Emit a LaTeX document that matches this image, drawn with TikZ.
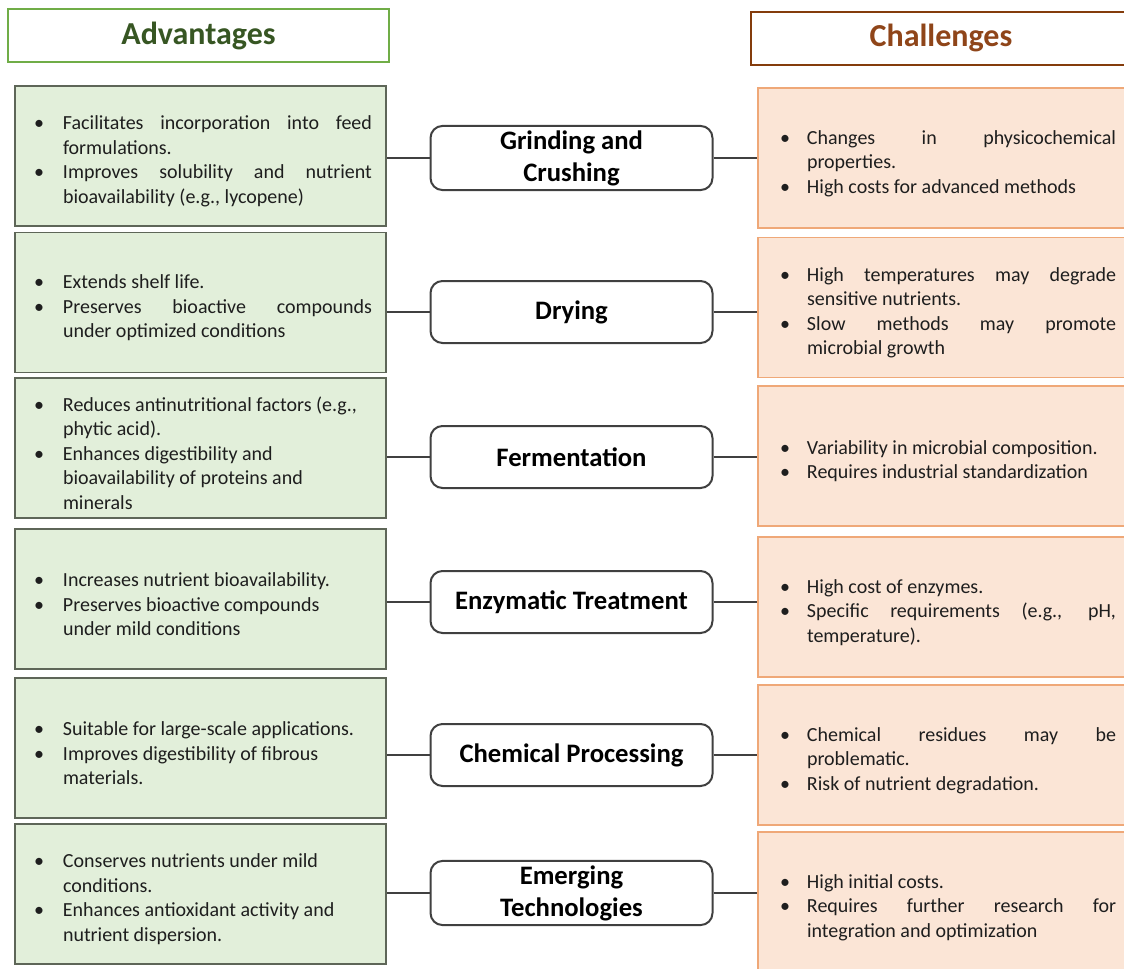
\documentclass[tikz,border=0pt]{standalone}
\usepackage{fontspec}
\setmainfont{Carlito}
\usetikzlibrary{positioning}

\definecolor{advline}{HTML}{70AD47}
\definecolor{advtext}{HTML}{375623}
\definecolor{advfill}{HTML}{E2EFDA}
\definecolor{advedge}{HTML}{5E6658}
\definecolor{chline}{HTML}{843C0C}
\definecolor{chtext}{HTML}{8F4519}
\definecolor{chfill}{HTML}{FBE5D6}
\definecolor{chedge}{HTML}{EFA878}
\definecolor{linkgray}{HTML}{404040}
\definecolor{bodytext}{HTML}{1E1E1E}

% bullet items, left and right column
\newcommand{\litem}[1]{\par\hangindent=25.5pt\hangafter=1\noindent\makebox[25.5pt][l]{\hspace{3.75pt}\textbullet}#1\par}
\newcommand{\ritem}[1]{\par\hangindent=26.25pt\hangafter=1\noindent\makebox[26.25pt][l]{\hspace{6pt}\textbullet}#1\par}

\tikzset{
  header/.style={draw, line width=1.5pt, fill=white, minimum height=39.75pt, font=\fontsize{24}{28}\selectfont\bfseries},
  advbox/.style={draw=advedge, fill=advfill, line width=1.2pt, minimum height=105pt, text width=257.25pt, inner xsep=10.5pt, align=justify, text=bodytext, font=\fontsize{15}{18.4}\selectfont},
  chbox/.style={draw=chedge, fill=chfill, line width=1.2pt, minimum height=105pt, text width=258pt, inner xsep=10.5pt, align=justify, text=bodytext, font=\fontsize{15}{18.4}\selectfont},
  method/.style={draw=linkgray, fill=white, line width=1.5pt, rounded corners=9pt, minimum width=211.5pt, minimum height=46.5pt, align=center, font=\fontsize{20}{24}\selectfont\bfseries},
  link/.style={draw=linkgray, line width=1.3pt}
}

\begin{document}
\begin{tikzpicture}[x=0.75pt, y=-0.75pt]
\useasboundingbox (0,0) rectangle (1124,968);
\clip (0,0) rectangle (1124,968);

% column headers
\node[header, draw=advline, text=advtext, minimum width=285.75pt] (A) at (198.5, 35.5) {Advantages};
\node[header, draw=chline, text=chtext, minimum width=285pt] (C) at (941, 38) {Challenges};

% advantages
\node[advbox] (L1) at (200.5, 156) {\litem{Facilitates incorporation into feed\linebreak formulations.}\litem{Improves solubility and nutrient\linebreak bioavailability (e.g., lycopene)}};
\node[advbox] (L2) at (200.5, 302.5) {\litem{Extends shelf life.}\litem{Preserves bioactive compounds\linebreak under optimized conditions}};
\node[advbox] (L3) at (200.5, 448) {\litem{Reduces antinutritional factors (e.g.,\newline phytic acid).}\litem{Enhances digestibility and\newline bioavailability of proteins and\newline minerals}};
\node[advbox] (L4) at (200.5, 599) {\litem{Increases nutrient bioavailability.}\litem{Preserves bioactive compounds\newline under mild conditions}};
\node[advbox] (L5) at (200.5, 748) {\litem{Suitable for large-scale applications.}\litem{Improves digestibility of fibrous\newline materials.}};
\node[advbox] (L6) at (200.5, 894) {\litem{Conserves nutrients under mild\newline conditions.}\litem{Enhances antioxidant activity and\newline nutrient dispersion.}};

% processing methods
\node[method] (M1) at (571.5, 158) {Grinding and\\Crushing};
\node[method] (M2) at (571.5, 312) {Drying};
\node[method] (M3) at (571.5, 457) {Fermentation};
\node[method] (M4) at (571.5, 602) {Enzymatic Treatment};
\node[method] (M5) at (571.5, 755) {Chemical Processing};
\node[method] (M6) at (571.5, 893) {Emerging\\Technologies};

% challenges
\node[chbox] (R1) at (944, 158) {\ritem{Changes in physicochemical\linebreak properties.}\ritem{High costs for advanced methods}};
\node[chbox] (R2) at (944, 307.5) {\ritem{High temperatures may degrade\linebreak sensitive nutrients.}\ritem{Slow methods may promote\linebreak microbial growth}};
\node[chbox] (R3) at (944, 456) {\ritem{Variability in microbial composition.}\ritem{Requires industrial standardization}};
\node[chbox] (R4) at (944, 607) {\ritem{High cost of enzymes.}\ritem{Specific requirements (e.g., pH,\linebreak temperature).}};
\node[chbox] (R5) at (944, 755) {\ritem{Chemical residues may be\linebreak problematic.}\ritem{Risk of nutrient degradation.}};
\node[chbox] (R6) at (944, 902) {\ritem{High initial costs.}\ritem{Requires further research for\linebreak integration and optimization}};

% connectors
\path[link] (M1.west) -- (M1.west -| L1.east);
\path[link] (M2.west) -- (M2.west -| L2.east);
\path[link] (M3.west) -- (M3.west -| L3.east);
\path[link] (M4.west) -- (M4.west -| L4.east);
\path[link] (M5.west) -- (M5.west -| L5.east);
\path[link] (M6.west) -- (M6.west -| L6.east);
\path[link] (M1.east) -- (M1.east -| R1.west);
\path[link] (M2.east) -- (M2.east -| R2.west);
\path[link] (M3.east) -- (M3.east -| R3.west);
\path[link] (M4.east) -- (M4.east -| R4.west);
\path[link] (M5.east) -- (M5.east -| R5.west);
\path[link] (M6.east) -- (M6.east -| R6.west);
\end{tikzpicture}
\end{document}
